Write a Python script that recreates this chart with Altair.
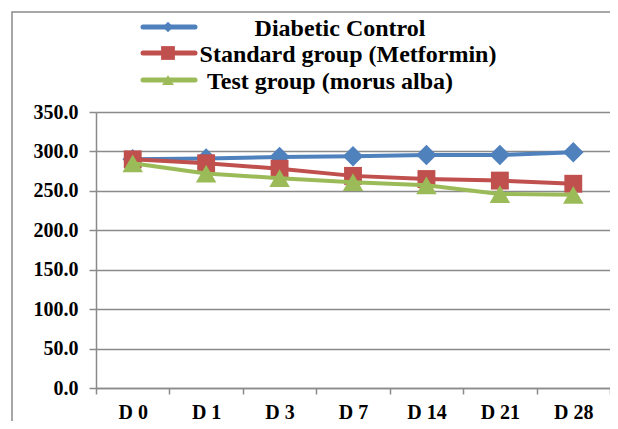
import altair as alt
import pandas as pd

days = ["D 0", "D 1", "D 3", "D 7", "D 14", "D 21", "D 28"]
series_names = ["Diabetic Control", "Standard group (Metformin)", "Test group (morus alba)"]
diabetic = [290, 291, 293, 294, 295.5, 295.5, 299]
standard = [290, 285, 278, 269, 265, 263, 259]
test = [285, 272, 266, 261, 257, 246, 245]
y_ticks = [0, 50, 100, 150, 200, 250, 300, 350]

colors = ["#4F81BD", "#C0504D", "#9BBB59"]
shapes = ["diamond", "square", "triangle-up"]
sizes = [420, 320, 420]
legend_sizes = [110, 190, 140]
legend_y = [-85, -59, -32]
legend_text_y = [-76, -50, -23.5]
legend_text_x = [244, 252, 234]

FONT = "Liberation Serif, Times New Roman, serif"
GRAY = "#8a8a8a"

values = [diabetic, standard, test]
frames = []
for name, vals in zip(series_names, values):
    frames.append(pd.DataFrame({"day": days, "value": vals, "series": name}))

x_enc = alt.X("day:N", sort=days, title=None,
              scale=alt.Scale(paddingInner=0, paddingOuter=0),
              axis=alt.Axis(tickBand="extent", labelAngle=0, labelFont=FONT,
                            labelFontSize=20, labelFontWeight="bold", labelColor="black",
                            domainColor=GRAY, domainWidth=1.5, tickColor=GRAY,
                            tickWidth=1.5, tickSize=6, labelPadding=8, grid=False))
y_enc = alt.Y("value:Q", title=None,
              scale=alt.Scale(domain=[0, 350], nice=False, zero=True),
              axis=alt.Axis(values=y_ticks, format=".1f", labelFont=FONT,
                            labelFontSize=20, labelFontWeight="bold", labelColor="black",
                            domainColor=GRAY, domainWidth=1.5, tickColor=GRAY,
                            tickWidth=1.5, tickSize=7, labelPadding=11,
                            grid=True, gridColor=GRAY, gridWidth=1.5))

layers = []
for i, df in enumerate(frames):
    base = alt.Chart(df)
    layers.append(base.mark_line(color=colors[i], strokeWidth=4).encode(x=x_enc, y=y_enc))
    layers.append(base.mark_point(shape=shapes[i], filled=True, opacity=1,
                                  color=colors[i], size=sizes[i]).encode(x=x_enc, y=y_enc))

# legend
for i, name in enumerate(series_names):
    ldf = pd.DataFrame({"series": [name]})
    lb = alt.Chart(ldf)
    layers.append(lb.mark_rule(color=colors[i], strokeWidth=5, strokeCap="round").encode(
        x=alt.value(47), x2=alt.value(99), y=alt.value(legend_y[i])))
    layers.append(lb.mark_point(shape=shapes[i], filled=True, opacity=1, color=colors[i],
                                size=legend_sizes[i]).encode(
        x=alt.value(72), y=alt.value(legend_y[i])))
    layers.append(lb.mark_text(font=FONT, fontSize=24, fontWeight="bold", color="black",
                               align="center", baseline="alphabetic").encode(
        text="series:N", x=alt.value(legend_text_x[i]), y=alt.value(legend_text_y[i])))

# outer frame
frame = alt.Chart(pd.DataFrame({"a": [0]})).mark_rect(
    fillOpacity=0, stroke=GRAY, strokeWidth=1.5).encode(
    x=alt.value(-84), x2=alt.value(700), y=alt.value(-100), y2=alt.value(420))

chart = alt.layer(frame, *layers).properties(
    width=514, height=276,
    autosize=alt.AutoSizeParams(type="none"),
    padding={"left": 88, "top": 104, "right": 0, "bottom": 33},
).configure_view(stroke=None)

chart.save("out.html", embed_options={"renderer": "svg", "actions": False})
